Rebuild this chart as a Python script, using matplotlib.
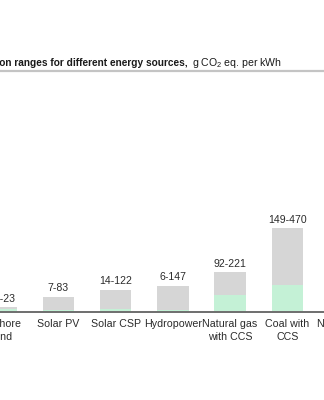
import matplotlib
matplotlib.use("Agg")
import matplotlib.pyplot as plt
from matplotlib.lines import Line2D
import numpy as np

plt.rcParams['font.family'] = ['Liberation Sans', 'DejaVu Sans']
plt.rcParams['mathtext.fontset'] = 'custom'
plt.rcParams['mathtext.rm'] = 'Liberation Sans'

# data (g CO2 eq. per kWh, min-max)
categories = ["Offshore\nwind", "Solar PV", "Solar CSP", "Hydropower",
              "Natural gas\nwith CCS", "Coal with\nCCS", "Natural gas"]
low_vals = [12, 7, 14, 6, 92, 149, 403]
high_vals = [23, 83, 122, 147, 221, 470, 513]

GREEN = "#c4f1d6"
GREY = "#d6d6d6"
TXT = "#2b2b2b"

W, H = 324, 400
fig = plt.figure(figsize=(W / 100, H / 100), dpi=100)

# the chart is a crop of a wider panel, so the axes run past the figure edges
step = 57.2
x0 = 1.3
ax_left = (x0 - 0.5 * step) / W
ax_width = (len(categories) * step) / W
ax = fig.add_axes([ax_left, 88.5 / H, ax_width, 229.6 / H])

x = np.arange(len(categories))
low = np.array(low_vals)
high = np.array(high_vals)

ax.bar(x, low, width=0.55, color=GREEN, zorder=2)
ax.bar(x, high - low, bottom=low, width=0.55, color=GREY, zorder=2)

for xi, lo, hi in zip(x, low, high):
    ax.annotate(f"{lo}-{hi}", (xi, hi), xytext=(0, 2.5), textcoords="offset points",
                ha="center", va="bottom", fontsize=7.6, color=TXT)

ax.set_xlim(-0.5, len(categories) - 0.5)
ax.set_ylim(0, 1300)
ax.set_xticks(x)
ax.set_xticklabels(categories, fontsize=7.7, color=TXT, linespacing=1.3)
ax.tick_params(axis="x", length=0, pad=5.5)
ax.set_yticks([])
for s in ["top", "left", "right"]:
    ax.spines[s].set_visible(False)
ax.spines["bottom"].set_color("#6e6e6e")
ax.spines["bottom"].set_linewidth(1.4)

# title, cut off on the left like the source
fig.text(188 / W, 1 - 66.5 / H, "Life-cycle emission ranges for different energy sources,",
         ha="right", va="baseline", fontsize=7.3, fontweight="bold", color="#1a1a1a")
fig.text(192 / W, 1 - 66.5 / H, r"g CO$_\mathregular{2}$ eq. per kWh",
         ha="left", va="baseline", fontsize=7.6, color="#1a1a1a")
fig.add_artist(Line2D([0, 1], [1 - 70.5 / H, 1 - 70.5 / H], transform=fig.transFigure,
                      color="#c4c4c4", lw=1.6))

fig.savefig("out.png", dpi=100)
